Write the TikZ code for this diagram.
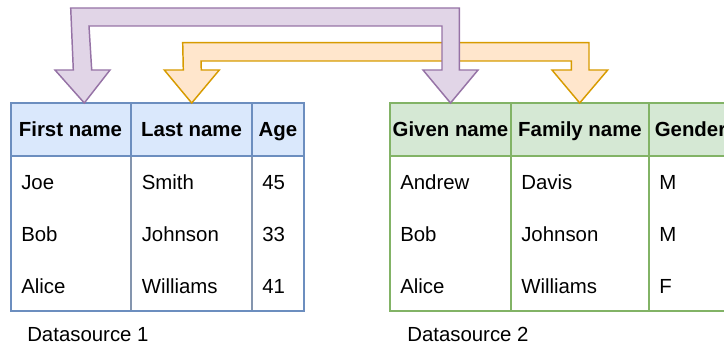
\documentclass[tikz,border=0pt]{standalone}
\usepackage{fontspec}
\setmainfont{Liberation Sans}
\definecolor{bluefill}{HTML}{DAE8FC}
\definecolor{bluedraw}{HTML}{6C8EBF}
\definecolor{bluegray}{HTML}{8495AE}
\definecolor{greenfill}{HTML}{D5E8D4}
\definecolor{greendraw}{HTML}{82B366}
\definecolor{purplefill}{HTML}{E1D5E7}
\definecolor{purpledraw}{HTML}{9673A6}
\definecolor{orangefill}{HTML}{FFE6CC}
\definecolor{orangedraw}{HTML}{D79B00}
\begin{document}
\begin{tikzpicture}[x=0.75pt,y=-0.75pt,
  line join=miter,
  cellline/.style={line width=1.1pt},
  hdrtext/.style={anchor=base,inner sep=0pt,font=\fontsize{15.3}{18}\selectfont\bfseries},
  celltext/.style={anchor=base west,inner sep=0pt,font=\fontsize{15.3}{18}\selectfont},
  captext/.style={anchor=base west,inner sep=0pt,font=\fontsize{15.3}{18}\selectfont},
  bigarrow/.style={line width=1.1pt,line join=miter}]
\useasboundingbox (0,0) rectangle (724,349);
\clip (0,0) rectangle (724,349);
% ---------- Table 1 ----------
\fill[white] (11,156) rectangle (304,311);
\draw[cellline,bluegray] (131,156) -- (131,311);
\draw[cellline,bluegray] (252,156) -- (252,311);
\draw[cellline,bluedraw] (11,156) rectangle (304,311);
\draw[cellline,bluedraw,fill=bluefill] (11,103) rectangle (131,156);
\draw[cellline,bluedraw,fill=bluefill] (131,103) rectangle (252,156);
\draw[cellline,bluedraw,fill=bluefill] (252,103) rectangle (304,156);
\node[hdrtext] (h11) at (70.5,137) {First name};
\node[hdrtext] (h12) at (191.5,137) {Last name};
\node[hdrtext] (h13) at (278,137) {Age};
\node[celltext] (a11) at (21,189.5) {Joe};
\node[celltext] (a21) at (21,241.5) {Bob};
\node[celltext] (a31) at (21,293.3) {Alice};
\node[celltext] (a12) at (141.5,189.5) {Smith};
\node[celltext] (a22) at (141.5,241.5) {Johnson};
\node[celltext] (a32) at (141.5,293.3) {Williams};
\node[celltext] (a13) at (262,189.5) {45};
\node[celltext] (a23) at (262,241.5) {33};
\node[celltext] (a33) at (262,293.3) {41};
\node[captext] (cap1) at (27,341) {Datasource 1};
% ---------- Table 2 ----------
\fill[white] (390,156) rectangle (732,311);
\draw[cellline,greendraw] (511,156) -- (511,311);
\draw[cellline,greendraw] (649,156) -- (649,311);
\draw[cellline,greendraw] (390,156) rectangle (732,311);
\draw[cellline,greendraw,fill=greenfill] (390,103) rectangle (511,156);
\draw[cellline,greendraw,fill=greenfill] (511,103) rectangle (649,156);
\draw[cellline,greendraw,fill=greenfill] (649,103) rectangle (732,156);
\node[hdrtext] (h21) at (450.5,137) {Given name};
\node[hdrtext] (h22) at (580,137) {Family name};
\node[hdrtext] (h23) at (690.5,137) {Gender};
\node[celltext] (b11) at (400,189.5) {Andrew};
\node[celltext] (b21) at (400,241.5) {Bob};
\node[celltext] (b31) at (400,293.3) {Alice};
\node[celltext] (b12) at (521,189.5) {Davis};
\node[celltext] (b22) at (521,241.5) {Johnson};
\node[celltext] (b32) at (521,293.3) {Williams};
\node[celltext] (b13) at (659,189.5) {M};
\node[celltext] (b23) at (659,241.5) {M};
\node[celltext] (b33) at (659,293.3) {F};
\node[captext] (cap2) at (407,341) {Datasource 2};
% ---------- Orange double arrow ----------
\draw[bigarrow,orangedraw,fill=orangefill]
  (191.7,103) -- (219.3,70) -- (201.3,70) -- (201,61) -- (571.3,61) -- (571.3,70)
  -- (552,70) -- (579.7,103) -- (607.7,70) -- (589,70) -- (589,42.7)
  -- (182.7,42.7) -- (183.3,70) -- (164.3,70) -- cycle;
% ---------- Purple double arrow ----------
\draw[bigarrow,purpledraw,fill=purplefill]
  (84.3,103) -- (110,70) -- (91.7,70) -- (89,26) -- (442,26) -- (442,70)
  -- (423,70) -- (450.5,103) -- (478,70) -- (459.3,70) -- (459.3,8)
  -- (70.7,8) -- (73.3,70) -- (55,70) -- cycle;
\end{tikzpicture}
\end{document}
